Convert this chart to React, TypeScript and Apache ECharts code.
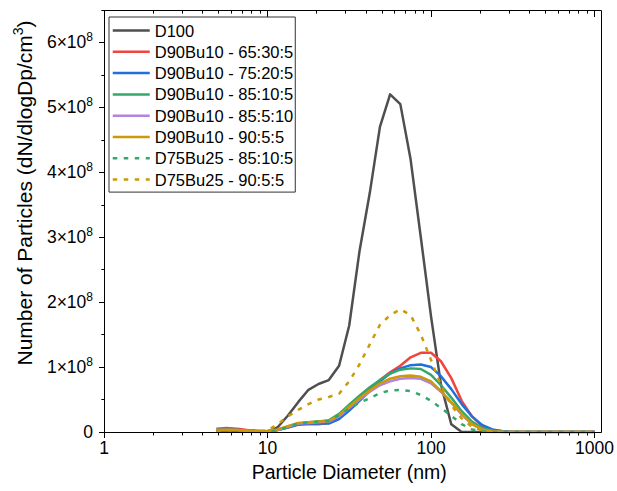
import React, { useEffect, useRef } from 'react';
import * as echarts from 'echarts';

const FONT = '"Liberation Sans", Arial, Helvetica, sans-serif';

// Particle diameters (nm)
const diameters = [4.87, 5.62, 6.49, 7.5, 8.66, 10, 11.5, 13.3, 15.4, 17.8, 20.5, 23.7, 27.4, 31.6, 36.5, 42.2, 48.7, 56.2, 64.9, 75, 86.6, 100, 115, 133, 154, 178, 205, 237, 274, 316, 365, 422, 487, 562, 649, 750, 866, 1000];

// Values in units of 1e8 particles (dN/dlogDp/cm3)
const d100 = [0.01, 0.01, 0.01, 0.01, 0, 0, 0.07, 0.25, 0.46, 0.65, 0.74, 0.8, 1.02, 1.64, 2.78, 3.68, 4.7, 5.2, 5.05, 4.2, 3.0, 1.78, 0.73, 0.12, 0, 0, 0, 0, 0, 0, 0, 0, 0, 0, 0, 0, 0, 0];
const bu10_65_30_5 = [0.05, 0.06, 0.05, 0.03, 0.02, 0.01, 0.03, 0.07, 0.11, 0.12, 0.12, 0.14, 0.22, 0.36, 0.52, 0.66, 0.8, 0.92, 1.02, 1.15, 1.22, 1.22, 1.09, 0.83, 0.48, 0.24, 0.09, 0.03, 0.01, 0, 0, 0, 0, 0, 0, 0, 0, 0];
const bu10_75_20_5 = [0.03, 0.04, 0.03, 0.02, 0.01, 0.01, 0.03, 0.07, 0.12, 0.13, 0.13, 0.13, 0.2, 0.33, 0.48, 0.63, 0.78, 0.9, 0.98, 1.03, 1.04, 1.0, 0.86, 0.66, 0.43, 0.24, 0.11, 0.04, 0.01, 0, 0, 0, 0, 0, 0, 0, 0, 0];
const bu10_85_10_5 = [0.03, 0.03, 0.03, 0.02, 0.01, 0.01, 0.03, 0.08, 0.13, 0.15, 0.16, 0.18, 0.28, 0.42, 0.56, 0.69, 0.8, 0.9, 0.96, 0.98, 0.97, 0.88, 0.72, 0.53, 0.32, 0.16, 0.06, 0.02, 0.005, 0, 0, 0, 0, 0, 0, 0, 0, 0];
const bu10_85_5_10 = [0.03, 0.03, 0.03, 0.02, 0.01, 0.01, 0.03, 0.08, 0.13, 0.14, 0.15, 0.16, 0.24, 0.37, 0.5, 0.62, 0.72, 0.78, 0.82, 0.83, 0.82, 0.75, 0.62, 0.45, 0.27, 0.12, 0.04, 0.01, 0, 0, 0, 0, 0, 0, 0, 0, 0, 0];
const bu10_90_5_5 = [0.03, 0.035, 0.03, 0.02, 0.015, 0.02, 0.04, 0.09, 0.14, 0.15, 0.16, 0.17, 0.26, 0.39, 0.52, 0.64, 0.75, 0.82, 0.86, 0.87, 0.85, 0.78, 0.63, 0.46, 0.28, 0.12, 0.04, 0.01, 0, 0, 0, 0, 0, 0, 0, 0, 0, 0];
const bu25_85_10_5 = [0.02, 0.02, 0.02, 0.01, 0.01, 0, 0.02, 0.08, 0.13, 0.15, 0.16, 0.17, 0.26, 0.36, 0.45, 0.52, 0.6, 0.64, 0.65, 0.63, 0.57, 0.48, 0.37, 0.25, 0.12, 0.04, 0.01, 0, 0, 0, 0, 0, 0, 0, 0, 0, 0, 0];
const bu25_90_5_5 = [0.02, 0.03, 0.03, 0.02, 0.01, 0.02, 0.12, 0.24, 0.34, 0.43, 0.5, 0.54, 0.59, 0.78, 1.04, 1.35, 1.65, 1.8, 1.89, 1.8, 1.5, 1.11, 0.72, 0.41, 0.21, 0.08, 0.025, 0.01, 0, 0, 0, 0, 0, 0, 0, 0, 0, 0];

const seriesNames = [
  'D100',
  'D90Bu10 - 65:30:5',
  'D90Bu10 - 75:20:5',
  'D90Bu10 - 85:10:5',
  'D90Bu10 - 85:5:10',
  'D90Bu10 - 90:5:5',
  'D75Bu25 - 85:10:5',
  'D75Bu25 - 90:5:5',
];
const seriesValues = [d100, bu10_65_30_5, bu10_75_20_5, bu10_85_10_5, bu10_85_5_10, bu10_90_5_5, bu25_85_10_5, bu25_90_5_5];
const seriesColors = ['#4f4f4f', '#f0443f', '#1f6fdc', '#33a86a', '#b283e2', '#cc9a06', '#33a86a', '#cc9a06'];
const seriesDashed = [false, false, false, false, false, false, true, true];

const xMajorTicks = [1, 10, 100, 1000];
const xMinorTicks = [2, 3, 4, 5, 6, 7, 8, 9, 20, 30, 40, 50, 60, 70, 80, 90, 200, 300, 400, 500, 600, 700, 800, 900];
const yMajorTicks = [0, 1, 2, 3, 4, 5, 6];
const yMinorTicks = [0.5, 1.5, 2.5, 3.5, 4.5, 5.5, 6.5];

export default function App() {
  const ref = useRef<HTMLDivElement>(null);

  useEffect(() => {
    document.body.style.margin = '0';
    if (!ref.current) return;
    const chart = echarts.init(ref.current, undefined, { renderer: 'svg' });

    const baseX = {
      type: 'log' as const,
      logBase: 10,
      min: 1,
      max: 1000,
      gridIndex: 0,
      axisLine: { show: false },
      splitLine: { show: false },
      minorTick: { show: false },
      minorSplitLine: { show: false },
    };
    const baseY = {
      type: 'value' as const,
      min: 0,
      max: 6.5,
      gridIndex: 0,
      position: 'left' as const,
      axisLine: { show: false },
      splitLine: { show: false },
      minorTick: { show: false },
    };

    const option: any = {
      animation: false,
      backgroundColor: '#fff',
      grid: { left: 104, top: 10, right: 21, bottom: 59, containLabel: false },
      xAxis: [
        {
          ...baseX,
          position: 'bottom',
          axisTick: { show: true, length: 6, customValues: xMajorTicks, lineStyle: { color: '#000', width: 1 } },
          axisLabel: {
            show: true,
            customValues: xMajorTicks,
            margin: 7,
            color: '#000',
            fontSize: 17.5,
            fontFamily: FONT,
            formatter: (v: number) => String(Math.round(v)),
          },
          name: 'Particle Diameter (nm)',
          nameLocation: 'middle',
          nameGap: 28,
          nameTextStyle: { color: '#000', fontSize: 19.5, fontFamily: FONT },
        },
        {
          ...baseX,
          position: 'bottom',
          axisTick: { show: true, length: 3.5, customValues: xMinorTicks, lineStyle: { color: '#000', width: 1 } },
          axisLabel: { show: false },
        },
        {
          ...baseX,
          position: 'top',
          axisTick: { show: true, inside: true, length: 7, customValues: xMajorTicks, lineStyle: { color: '#000', width: 1 } },
          axisLabel: { show: false },
        },
        {
          ...baseX,
          position: 'top',
          axisTick: { show: true, inside: true, length: 3.6, customValues: xMinorTicks, lineStyle: { color: '#000', width: 1 } },
          axisLabel: { show: false },
        },
      ],
      yAxis: [
        {
          ...baseY,
          axisTick: { show: true, length: 5, customValues: yMajorTicks, lineStyle: { color: '#000', width: 1 } },
          axisLabel: {
            show: true,
            customValues: yMajorTicks,
            margin: 11,
            formatter: (v: number) => (v === 0 ? '{b|0}' : `{b|${Math.round(v)}×10}{s|8}`),
            rich: {
              b: { fontSize: 17.5, fontFamily: FONT, color: '#000', lineHeight: 22 },
              s: { fontSize: 12, fontFamily: FONT, color: '#000', lineHeight: 14, verticalAlign: 'top' },
            },
          },
        },
        {
          ...baseY,
          axisTick: { show: true, length: 2.7, customValues: yMinorTicks, lineStyle: { color: '#000', width: 1 } },
          axisLabel: { show: false },
        },
      ],
      legend: {
        orient: 'vertical',
        left: 109,
        top: 17,
        itemWidth: 37,
        itemHeight: 14,
        itemGap: 4.3,
        padding: [5, 2, 4, 2.5],
        borderColor: '#333',
        borderWidth: 1,
        borderRadius: 0,
        backgroundColor: '#fff',
        selectedMode: false,
        itemStyle: { opacity: 0, borderWidth: 0 },
        lineStyle: { width: 2.5 },
        textStyle: { fontSize: 16.5, fontFamily: FONT, color: '#000', lineHeight: 16 },
        data: seriesNames,
      },
      graphic: [
        {
          type: 'rect',
          z: 10,
          silent: true,
          shape: { x: 104.5, y: 10.5, width: 497, height: 422 },
          style: { fill: 'none', stroke: '#000', lineWidth: 1 },
        },
        {
          type: 'text',
          x: 24,
          y: 193,
          rotation: Math.PI / 2,
          silent: true,
          style: {
            text: '{a|Number of Particles (dN/dlogDp/cm}{s|3}{a|)}',
            align: 'center',
            verticalAlign: 'middle',
            rich: {
              a: { fontSize: 21, fontFamily: FONT, fill: '#000', lineHeight: 26 },
              s: { fontSize: 14, fontFamily: FONT, fill: '#000', lineHeight: 16, verticalAlign: 'top' },
            },
          },
        },
      ],
      series: seriesNames.map((name, i) => ({
        name,
        type: 'line',
        xAxisIndex: 0,
        yAxisIndex: 0,
        data: diameters.map((d, j) => [d, seriesValues[i][j]]),
        showSymbol: false,
        symbol: 'none',
        silent: true,
        itemStyle: { color: seriesColors[i] },
        lineStyle: {
          color: seriesColors[i],
          width: 2.5,
          type: seriesDashed[i] ? [4.5, 6.5] : 'solid',
          cap: 'butt',
          join: 'round',
        },
      })),
    };

    chart.setOption(option);
    return () => chart.dispose();
  }, []);

  return <div ref={ref} style={{ width: 617, height: 491 }} />;
}
